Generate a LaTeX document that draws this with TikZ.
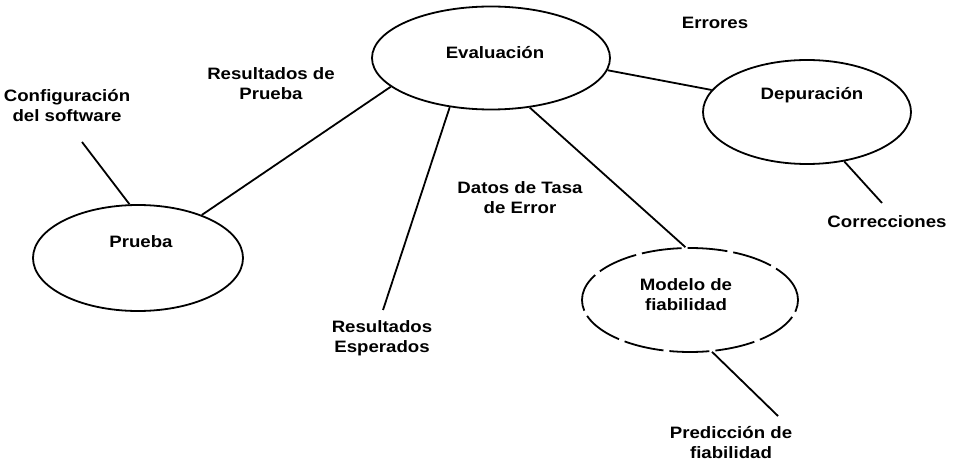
\documentclass[tikz,border=0pt]{standalone}
\usepackage{fontspec}
\setmainfont{Liberation Sans}[FakeStretch=1.13]
\usetikzlibrary{shapes.geometric}
\tikzset{
  bubble/.style={ellipse, draw, line width=1.8pt, inner sep=0pt},
  lbl/.style={align=center, inner sep=0pt, font=\fontsize{16.5}{20}\selectfont\bfseries},
  link/.style={line width=1.8pt}
}
\begin{document}
\begin{tikzpicture}[x=1pt,y=-1pt]
\useasboundingbox[fill=white] (0,0) rectangle (957,462);
% ellipses
\node[bubble, minimum width=238pt, minimum height=103pt] (ev) at (491,58) {};
\node[bubble, minimum width=208pt, minimum height=104pt] (dep) at (807,112) {};
\node[bubble, minimum width=210pt, minimum height=106pt] (pr) at (138,258) {};
\node[bubble, minimum width=216pt, minimum height=104pt, dash pattern=on 40pt off 6pt] (mod) at (690,300) {};
% texts inside
\node[lbl] (tev) at (495,53) {Evaluación};
\node[lbl] (tdep) at (812,95) {Depuración};
\node[lbl] (tpr) at (141,242) {Prueba};
\node[lbl] (tmod) at (686,295) {Modelo de\\fiabilidad};
% free labels
\node[lbl] (err) at (715,23) {Errores};
\node[lbl] (rp) at (271,84) {Resultados de\\Prueba};
\node[lbl] (cfg) at (67,106) {Configuración\\del software};
\node[lbl] (dt) at (520,198) {Datos de Tasa\\de Error};
\node[lbl] (re) at (382,338) {Resultados\\Esperados};
\node[lbl] (cor) at (887,222) {Correcciones};
\node[lbl] (pf) at (731,443) {Predicción de\\fiabilidad};
% free ends
\coordinate (cfgend) at (82,142);
\coordinate (reend) at (383,310);
\coordinate (corend) at (882,203);
\coordinate (pfend) at (778,416);
% connectors
\draw[link] (pr.34) -- (ev.196.5);
\draw[link] (pr.99.6) -- (cfgend);
\draw[link] (ev.230.4) -- (reend);
\draw[link] (ev.308.9) -- (mod.95.5);
\draw[link] (ev.354.2) -- (dep.167);
\draw[link] (dep.307.2) -- (corend);
\draw[link] (mod.293.5) -- (pfend);
\end{tikzpicture}
\end{document}
